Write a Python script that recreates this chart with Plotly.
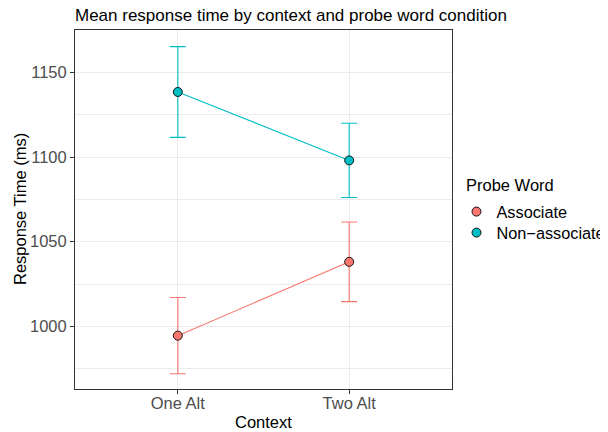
import plotly.graph_objects as go

contexts = ["One Alt", "Two Alt"]
groups = ["Associate", "Non\u2212associate"]
colors = ["#F8766D", "#00BFC4"]
means_associate = [994.5, 1038.1]
means_nonassociate = [1138.4, 1098.0]
err_associate = [22.5, 23.5]
err_nonassociate = [26.8, 21.9]

means = [means_associate, means_nonassociate]
errs = [err_associate, err_nonassociate]

# the page body adds an 8px offset; all positions below are compensated by -8px
W, H = 608, 432
OFF = 8
PL, PR, PT, PB = 75 - OFF, 452 - OFF, 30 - OFF, 389 - OFF  # panel edges in figure px
PW, PH = PR - PL, PB - PT

legend_ids = ["legend", "legend2"]
legend_item_y = [211.7, 232.7]  # window px of legend key centres

fig = go.Figure()
for g, c, m, e in zip(groups, colors, means, errs):
    fig.add_trace(go.Scatter(
        x=contexts, y=m, mode="lines", line=dict(color=c, width=1.1),
        showlegend=False, hoverinfo="skip",
        error_y=dict(type="data", array=e, visible=True, color=c, thickness=1.1, width=8),
    ))
for g, c, m, lid in zip(groups, colors, means, legend_ids):
    fig.add_trace(go.Scatter(
        x=contexts, y=m, mode="markers", name=g, legend=lid,
        marker=dict(color=c, size=9, line=dict(color="black", width=0.9)),
    ))

axis_common = dict(
    automargin=False,
    showline=True, linecolor="#333333", linewidth=1, mirror=True,
    ticks="outside", ticklen=4, tickcolor="#333333", tickwidth=1,
    tickfont=dict(size=16.5, color="#4D4D4D"),
    gridcolor="#EBEBEB", gridwidth=1, zeroline=False,
)

def legend_box(item_y):
    return dict(xref="container", yref="container",
                x=(456.5 - OFF) / W, xanchor="left",
                y=1 - (item_y - 17.2 - OFF) / H, yanchor="top",
                font=dict(size=16.3, color="black"), itemwidth=30,
                bgcolor="rgba(0,0,0,0)")

fig.update_layout(
    width=W, height=H,
    margin=dict(l=PL, r=W - PR, t=PT, b=H - PB),
    paper_bgcolor="white", plot_bgcolor="white",
    font=dict(family="Liberation Sans, Arial, sans-serif", color="black"),
    title=dict(text="Mean response time by context and probe word condition",
               x=PL / W, xanchor="left", y=1 - (15.5 - OFF) / H, yanchor="middle",
               font=dict(size=17, color="black"), automargin=False),
    xaxis=dict(axis_common, range=[-0.6, 1.6], ticklabelstandoff=-5),
    yaxis=dict(axis_common, range=[963, 1175], tickvals=[1000, 1050, 1100, 1150],
               minor=dict(tickvals=[975, 1025, 1075, 1125], showgrid=True,
                          gridcolor="#EBEBEB", gridwidth=0.6, ticks="")),
    legend=legend_box(legend_item_y[0]),
    legend2=legend_box(legend_item_y[1]),
    annotations=[
        dict(text="Probe Word", xref="paper", x=((463.5 - OFF) - PL) / PW,
             yref="paper", y=(PB - (185 - OFF)) / PH, xanchor="left", yanchor="middle",
             showarrow=False, font=dict(size=16.5, color="black")),
        dict(text="Context", xref="paper", x=0.5, yref="paper",
             y=(PB - (422 - OFF)) / PH, xanchor="center", yanchor="middle",
             showarrow=False, font=dict(size=16.5, color="black")),
        dict(text="Response Time (ms)", xref="paper", x=((19.5 - OFF) - PL) / PW,
             yref="paper", y=0.5, xanchor="center", yanchor="middle", textangle=-90,
             showarrow=False, font=dict(size=16.5, color="black")),
    ],
)

fig.write_html("out.html")
